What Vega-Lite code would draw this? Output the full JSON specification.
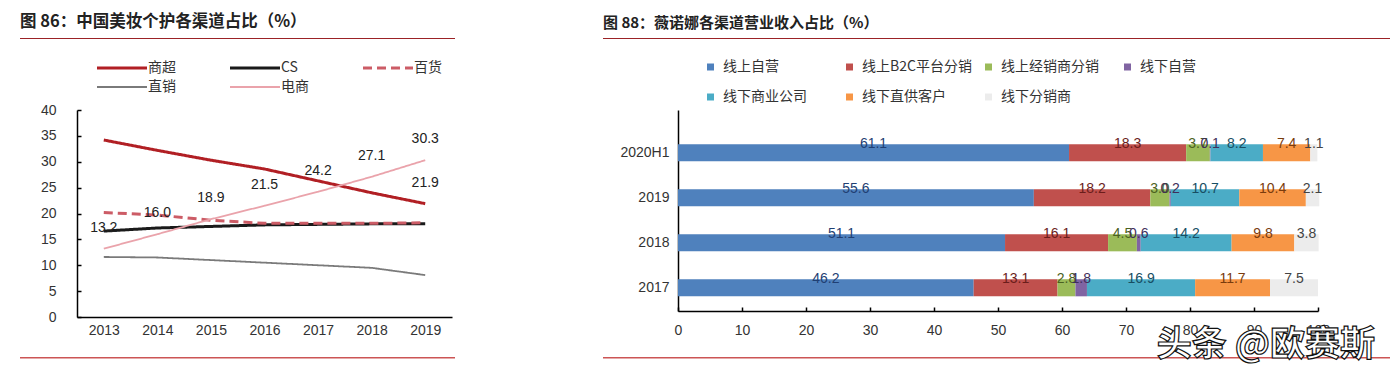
{
  "$schema": "https://vega.github.io/schema/vega-lite/v6.json",
  "background": "white",
  "padding": {"left": 20, "top": 14, "right": 0, "bottom": 0},
  "config": {
    "view": {"stroke": null},
    "font": "Noto Sans CJK SC",
    "axis": {"labelFont": "Liberation Sans", "labelFontSize": 14, "labelColor": "#333", "domainColor": "#000", "domainWidth": 1.5, "tickColor": "#000", "tickWidth": 1.5, "grid": false, "title": null, "labelFlush": false},
    "legend": {"labelFont": "Noto Sans CJK SC", "labelFontSize": 14, "labelColor": "#333", "padding": 0},
    "title": {"font": "Noto Sans CJK SC", "fontSize": 15, "color": "#222", "anchor": "start", "fontWeight": "bold"},
    "style": {"wm": {"stroke": "#111", "strokeWidth": 1.2}}
  },
  "title": {"text": "头条 @欧赛斯", "orient": "bottom", "anchor": "end", "offset": -32, "dx": -15, "fontSize": 35, "fontWeight": "bold", "color": "white", "style": "wm", "font": "Noto Sans CJK SC"},
  "spacing": 18,
  "resolve": {"scale": {"color": "independent", "strokeDash": "independent", "strokeWidth": "independent"}},
  "vconcat": [
    {
      "spacing": 148,
      "hconcat": [
        {
          "width": 435, "height": 1,
          "view": {"fill": "#9b2226", "stroke": null},
          "title": {"text": "图 86：中国美妆个护各渠道占比（%）", "offset": 5, "fontSize": 16.5},
          "data": {"values": [{"k": 0}]},
          "mark": {"type": "point", "opacity": 0},
          "encoding": {}
        },
        {
          "width": 787, "height": 1,
          "view": {"fill": "#9b2226", "stroke": null},
          "title": {"text": "图 88：薇诺娜各渠道营业收入占比（%）", "offset": 5},
          "data": {"values": [{"k": 0}]},
          "mark": {"type": "point", "opacity": 0},
          "encoding": {}
        }
      ]
    },
    {
      "spacing": 0,
      "resolve": {"scale": {"color": "independent", "strokeDash": "independent", "strokeWidth": "independent"}},
      "hconcat": [
        {
          "width": 1, "height": 1,
          "data": {"values": [{"k": 0}]},
          "mark": {"type": "text", "text": ""},
          "encoding": {}
        },
        {
          "width": 375, "height": 207,
          "data": {"values": [
            {"year": "2013", "channel": "商超", "share": 34.2},
            {"year": "2014", "channel": "商超", "share": 32.2},
            {"year": "2015", "channel": "商超", "share": 30.3},
            {"year": "2016", "channel": "商超", "share": 28.6},
            {"year": "2017", "channel": "商超", "share": 26.3},
            {"year": "2018", "channel": "商超", "share": 24.0},
            {"year": "2019", "channel": "商超", "share": 21.9},
            {"year": "2013", "channel": "CS", "share": 16.6},
            {"year": "2014", "channel": "CS", "share": 17.2},
            {"year": "2015", "channel": "CS", "share": 17.5},
            {"year": "2016", "channel": "CS", "share": 17.8},
            {"year": "2017", "channel": "CS", "share": 17.9},
            {"year": "2018", "channel": "CS", "share": 18.0},
            {"year": "2019", "channel": "CS", "share": 18.0},
            {"year": "2013", "channel": "百货", "share": 20.2},
            {"year": "2014", "channel": "百货", "share": 19.7},
            {"year": "2015", "channel": "百货", "share": 18.7},
            {"year": "2016", "channel": "百货", "share": 18.1},
            {"year": "2017", "channel": "百货", "share": 18.1},
            {"year": "2018", "channel": "百货", "share": 18.1},
            {"year": "2019", "channel": "百货", "share": 18.2},
            {"year": "2013", "channel": "直销", "share": 11.6},
            {"year": "2014", "channel": "直销", "share": 11.5},
            {"year": "2015", "channel": "直销", "share": 11.0},
            {"year": "2016", "channel": "直销", "share": 10.5},
            {"year": "2017", "channel": "直销", "share": 10.0},
            {"year": "2018", "channel": "直销", "share": 9.5},
            {"year": "2019", "channel": "直销", "share": 8.1},
            {"year": "2013", "channel": "电商", "share": 13.2},
            {"year": "2014", "channel": "电商", "share": 16.0},
            {"year": "2015", "channel": "电商", "share": 18.9},
            {"year": "2016", "channel": "电商", "share": 21.5},
            {"year": "2017", "channel": "电商", "share": 24.2},
            {"year": "2018", "channel": "电商", "share": 27.1},
            {"year": "2019", "channel": "电商", "share": 30.3}
          ]},
          "encoding": {
            "x": {"field": "year", "type": "ordinal", "scale": {"type": "point", "padding": 0.5}, "axis": {"labelAngle": 0, "ticks": false, "labelPadding": 6}},
            "y": {"field": "share", "type": "quantitative", "scale": {"domain": [0, 40], "nice": false}, "axis": {"values": [0, 5, 10, 15, 20, 25, 30, 35, 40], "tickSize": -4, "labelPadding": 25, "minExtent": 56, "maxExtent": 56}}
          },
          "layer": [
            {
              "mark": {"type": "line"},
              "encoding": {
                "color": {"field": "channel", "type": "nominal",
                  "scale": {"domain": ["商超", "CS", "百货", "直销", "电商"], "range": ["#b11f24", "#1a1a1a", "#cc5c66", "#7a7a7a", "#eaa3ab"]},
                  "legend": {"title": null, "orient": "none", "legendX": 38, "legendY": -49, "direction": "horizontal", "columns": 3, "symbolType": "M-5,0H5", "symbolSize": 100, "labelOffset": 19, "columnPadding": 48, "rowPadding": 5}},
                "strokeDash": {"field": "channel", "type": "nominal",
                  "scale": {"domain": ["商超", "CS", "百货", "直销", "电商"], "range": [[1, 0], [1, 0], [9, 5], [1, 0], [1, 0]]}},
                "strokeWidth": {"field": "channel", "type": "nominal",
                  "scale": {"type": "ordinal", "domain": ["商超", "CS", "百货", "直销", "电商"], "range": [3, 3, 3, 1.8, 1.8]}}
              }
            },
            {
              "transform": [{"filter": "datum.channel === '电商' || (datum.channel === '商超' && datum.year === '2019')"}],
              "mark": {"type": "text", "dy": -21, "fontSize": 14, "font": "Liberation Sans", "color": "#222"},
              "encoding": {"text": {"field": "share", "type": "quantitative", "format": ".1f"}}
            }
          ]
        },
        {
          "width": 640, "height": 201,
          "data": {"values": [
            {"period": "2020H1", "channel": "线上自营", "share": 61.1},
            {"period": "2020H1", "channel": "线上B2C平台分销", "share": 18.3},
            {"period": "2020H1", "channel": "线上经销商分销", "share": 3.7},
            {"period": "2020H1", "channel": "线下自营", "share": 0.1},
            {"period": "2020H1", "channel": "线下商业公司", "share": 8.2},
            {"period": "2020H1", "channel": "线下直供客户", "share": 7.4},
            {"period": "2020H1", "channel": "线下分销商", "share": 1.1},
            {"period": "2019", "channel": "线上自营", "share": 55.6},
            {"period": "2019", "channel": "线上B2C平台分销", "share": 18.2},
            {"period": "2019", "channel": "线上经销商分销", "share": 3.0},
            {"period": "2019", "channel": "线下自营", "share": 0.2},
            {"period": "2019", "channel": "线下商业公司", "share": 10.7},
            {"period": "2019", "channel": "线下直供客户", "share": 10.4},
            {"period": "2019", "channel": "线下分销商", "share": 2.1},
            {"period": "2018", "channel": "线上自营", "share": 51.1},
            {"period": "2018", "channel": "线上B2C平台分销", "share": 16.1},
            {"period": "2018", "channel": "线上经销商分销", "share": 4.5},
            {"period": "2018", "channel": "线下自营", "share": 0.6},
            {"period": "2018", "channel": "线下商业公司", "share": 14.2},
            {"period": "2018", "channel": "线下直供客户", "share": 9.8},
            {"period": "2018", "channel": "线下分销商", "share": 3.8},
            {"period": "2017", "channel": "线上自营", "share": 46.2},
            {"period": "2017", "channel": "线上B2C平台分销", "share": 13.1},
            {"period": "2017", "channel": "线上经销商分销", "share": 2.8},
            {"period": "2017", "channel": "线下自营", "share": 1.8},
            {"period": "2017", "channel": "线下商业公司", "share": 16.9},
            {"period": "2017", "channel": "线下直供客户", "share": 11.7},
            {"period": "2017", "channel": "线下分销商", "share": 7.5}
          ]},
          "transform": [{"calculate": "indexof(['线上自营','线上B2C平台分销','线上经销商分销','线下自营','线下商业公司','线下直供客户','线下分销商'], datum.channel)", "as": "k"}],
          "encoding": {
            "y": {"field": "period", "type": "nominal", "sort": ["2020H1", "2019", "2018", "2017"], "scale": {"paddingInner": 0.62, "paddingOuter": 0.544, "align": 0.7}, "axis": {"ticks": false, "labelPadding": 9, "minExtent": 226, "maxExtent": 226}},
            "x": {"field": "share", "type": "quantitative", "stack": "zero", "scale": {"domain": [0, 100], "nice": false}, "axis": {"values": [0, 10, 20, 30, 40, 50, 60, 70, 80, 90, 100], "tickSize": -4, "labelPadding": 16}},
            "order": {"field": "k", "type": "quantitative"}
          },
          "layer": [
            {
              "mark": {"type": "bar"},
              "encoding": {
                "color": {"field": "channel", "type": "nominal",
                  "scale": {"domain": ["线上自营", "线上B2C平台分销", "线上经销商分销", "线下自营", "线下商业公司", "线下直供客户", "线下分销商"], "range": ["#4f81bd", "#c0504d", "#9bbb59", "#8064a2", "#4bacc6", "#f79646", "#ececec"]},
                  "legend": {"title": null, "orient": "none", "legendX": 25.5, "legendY": -50, "direction": "horizontal", "columns": 4, "symbolType": "square", "symbolSize": 49, "gridAlign": "all", "columnPadding": 9, "rowPadding": 16, "labelOffset": 5.5, "symbolStrokeWidth": 0}}
              }
            },
            {
              "mark": {"type": "text", "fontSize": 14, "font": "Liberation Sans", "baseline": "middle"},
              "encoding": {
                "x": {"field": "share", "type": "quantitative", "stack": "zero", "bandPosition": 0.5},
                "text": {"field": "share", "type": "quantitative", "format": ".1f"},
                "color": {"field": "channel", "type": "nominal",
                  "scale": {"domain": ["线上自营", "线上B2C平台分销", "线上经销商分销", "线下自营", "线下商业公司", "线下直供客户", "线下分销商"], "range": ["#1f3f73", "#6b1d1b", "#4b6121", "#3f2f5a", "#174e63", "#7a3b0c", "#444444"]},
                  "legend": null},
                "yOffset": {"condition": {"test": "datum.channel === '线下自营' && datum.share < 1", "value": -11}, "value": 0}
              }
            }
          ],
          "resolve": {"scale": {"color": "independent"}}
        }
      ]
    },
    {
      "spacing": 148,
      "hconcat": [
        {
          "width": 435, "height": 1.5,
          "view": {"fill": "#cc5555", "stroke": null},
          "data": {"values": [{"k": 0}]},
          "mark": {"type": "point", "opacity": 0},
          "encoding": {}
        },
        {
          "width": 787, "height": 1.5,
          "view": {"fill": "#cc5555", "stroke": null},
          "data": {"values": [{"k": 0}]},
          "mark": {"type": "point", "opacity": 0},
          "encoding": {}
        }
      ]
    }
  ]
}
